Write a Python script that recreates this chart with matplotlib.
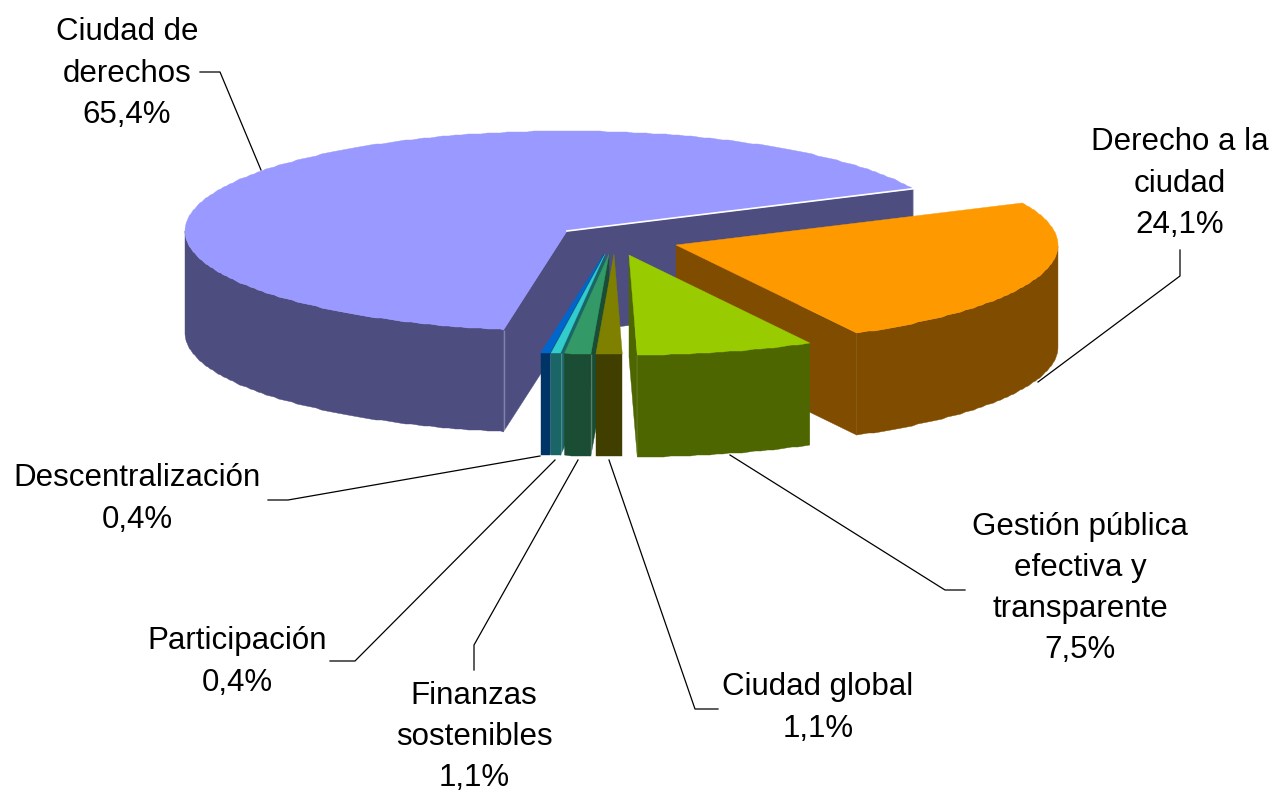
# 3D style exploded pie, drawn with polygons in pixel coordinates
import numpy as np
import matplotlib
matplotlib.use("Agg")
import matplotlib.pyplot as plt
from matplotlib.patches import Polygon

plt.rcParams['font.family'] = ['Liberation Sans', 'DejaVu Sans']

# chart data, clockwise from the start angle
names = ["Derecho a la\nciudad", "Gestión pública\nefectiva y\ntransparente", "Ciudad global",
         "Finanzas\nsostenibles", "Participación", "Descentralización", "Ciudad de\nderechos"]
values = [24.1, 7.5, 1.1, 1.1, 0.4, 0.4, 65.4]
top_colors = ["#ff9900", "#99cc00", "#808000", "#339966", "#33cccc", "#0066cc", "#9999ff"]
side_colors = ["#804c00", "#4d6600", "#403f00", "#1a4d33", "#1a6666", "#003366", "#4d4d80"]

# layout of the pie
start_angle = 25.0
rx, ry = 382, 100
depth = 102
center = (567, 231)
# offset of each slice from the center (exploded)
offsets = [(109, 14), (62, 24), (47, 23), (42, 23), (38, 23), (37, 23), (0, 0)]
draw_order = [6, 0, 1, 5, 4, 3, 2]
# label center x, y of first line
label_pos = [(1180, 141), (1080, 525), (818, 686), (474, 694), (237, 640), (137, 477), (127, 31)]
leaders = [[(1180, 250), (1180, 276), (1038, 382)],
           [(965, 590), (945, 590), (730, 455)],
           [(718, 709), (695, 709), (609, 460)],
           [(474, 670), (474, 645), (578, 460)],
           [(330, 661), (355, 661), (555, 460)],
           [(268, 500), (288, 500), (540, 456)],
           [(200, 72), (220, 72), (261, 170)]]

fig = plt.figure(figsize=(12.74, 7.91), dpi=100)
ax = fig.add_axes([0, 0, 1, 1])
ax.set_xlim(0, 1274)
ax.set_ylim(791, 0)
ax.axis('off')


def rim(cx, cy, t):
    # t in degrees, screen y goes down
    t = np.radians(t)
    return cx + rx * np.cos(t), cy - ry * np.sin(t)


# angle range of each slice
total = sum(values)
spans = np.array(values) / total * 360
highs = start_angle - np.concatenate(([0], np.cumsum(spans)[:-1]))
lows = highs - spans

for n, i in enumerate(draw_order):
    z = 1 + n
    cx = center[0] + offsets[i][0]
    cy = center[1] + offsets[i][1]
    low, high = lows[i], highs[i]
    if i == 6:
        # big slice goes the long way round, keep it counter clockwise from the start
        low, high = start_angle, start_angle + spans[i]
    side = side_colors[i]

    # cut faces, only when they turn towards the viewer
    for t, normal in [(low, low - 90), (high, high + 90)]:
        if np.sin(np.radians(normal)) < 0:
            x, y = rim(cx, cy, t)
            face = [(cx, cy), (x, y), (x, y + depth), (cx, cy + depth)]
            ax.add_patch(Polygon(face, closed=True, fc=side, ec=side, lw=0.3, zorder=z))
            ax.plot([x, x], [y, y + depth], color='white', alpha=0.3, lw=1,
                    solid_capstyle='butt', zorder=z + 0.1)

    # outer wall, lower half of the ellipse only
    ts = np.clip(np.arange(low, high + 1, 1.0), low, high)
    ts = ts[np.sin(np.radians(ts)) <= 0.001]
    if len(ts) > 1:
        xs, ys = rim(cx, cy, ts)
        ys = np.round(ys)
        wall = np.vstack([np.column_stack([xs, ys]), np.column_stack([xs, ys + depth])[::-1]])
        ax.add_patch(Polygon(wall, closed=True, fc=side, ec=side, lw=0.3, zorder=z + 0.2))

    # top of the slice
    ts = np.clip(np.arange(low, high + 1, 1.0), low, high)
    xs, ys = rim(cx, cy, ts)
    ys = np.round(ys)
    top = np.vstack([[(cx, cy)], np.column_stack([xs, ys])])
    ax.add_patch(Polygon(top, closed=True, fc=top_colors[i], ec=top_colors[i], lw=0.3, zorder=z + 0.3))

    if i == 6:
        # white hairline on the back cut
        x, y = rim(cx, cy, low)
        ax.plot([cx, x], [cy, y], color='white', lw=1.2, zorder=z + 0.4)

# leader lines and labels
for name, val, pos, line in zip(names, values, label_pos, leaders):
    ax.plot([p[0] for p in line], [p[1] for p in line], color='black', lw=0.9, zorder=15)
    txt = name + "\n" + f"{val:.1f}".replace('.', ',') + "%"
    ax.text(pos[0], pos[1] - 13.5, txt, ha='center', va='top', fontsize=22.5,
            linespacing=1.49, color='black', zorder=16)

fig.savefig("out.png", dpi=100)
